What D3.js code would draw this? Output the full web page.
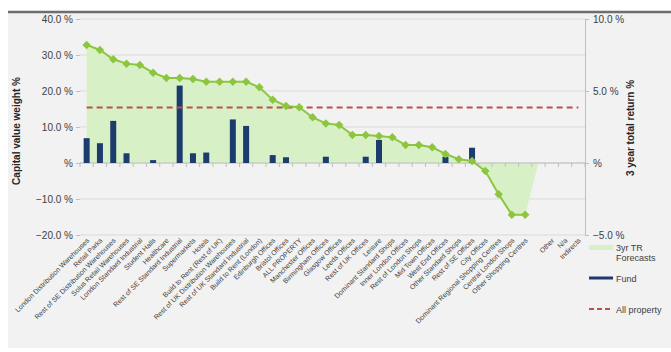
<!DOCTYPE html>
<html>
<head>
<meta charset="utf-8">
<script src="https://cdnjs.cloudflare.com/ajax/libs/d3/7.8.5/d3.min.js"></script>
<style>
  body { margin: 0; background: #fff; }
  svg text { font-family: "Liberation Sans", Arial, sans-serif; }
</style>
</head>
<body>
<div id="chart"></div>
<script>
// categories (one blank slot between the shopping centres and "Other")
const categories = [
  "London Distribution Warehouses", "Retail Parks", "Rest of SE Distribution Warehouses",
  "Solus Retail Warehouses", "London Standard Industrial", "Student Halls", "Healthcare",
  "Rest of SE Standard Industrial", "Supermarkets", "Hotels", "Build to Rent (Rest of UK)",
  "Rest of UK Distribution Warehouses", "Rest of UK Standard Industrial", "Build to Rent (London)",
  "Edinburgh Offices", "Bristol Offices", "ALL PROPERTY", "Manchester Offices",
  "Birmingham Offices", "Glasgow Offices", "Leeds Offices", "Rest of UK Offices", "Leisure",
  "Dominant Standard Shops", "Inner London Offices", "Rest of London Shops", "Mid Town Offices",
  "West End Offices", "Other Standard Shops", "Rest of SE Offices", "City Offices",
  "Dominant Regional Shopping Centres", "Central London Shops", "Other Shopping Centres",
  "", "Other", "N/a", "Indirects"
];

// 3 year total return forecasts (% , right axis)
const forecast = [
  8.2, 7.85, 7.2, 6.9, 6.8, 6.27, 5.9, 5.9, 5.83, 5.65, 5.65, 5.65, 5.65, 5.26,
  4.4, 3.96, 3.87, 3.17, 2.75, 2.64, 1.94, 1.94, 1.88, 1.78, 1.25, 1.25, 1.09,
  0.63, 0.26, 0.14, -0.56, -2.17, -3.6, -3.6, null, null, null, null
];
// area returns to zero at the blank slot
const forecastArea = forecast.map((v, i) => v === null ? (i === 34 ? 0 : null) : v);

// fund capital value weight (% , left axis)
const fund = [
  6.9, 5.5, 11.7, 2.7, 0, 0.8, 0, 21.5, 2.7, 2.9, 0, 12.1, 10.3, 0,
  2.2, 1.6, 0, 0, 1.75, 0, 0, 1.75, 6.4, 0, 0, 0, 0,
  1.75, 0, 4.25, 0, 0, 0, 0, 0, 0, 0, 0
];

// all property return (% , right axis)
const allProperty = 3.85;

const leftTicks = [40, 30, 20, 10, 0, -10, -20];
const rightTicks = [10, 5, 0, -5];

const W = 671, H = 352;
const plot = { left: 80, right: 585, top: 19, bottom: 235 };

const svg = d3.select("#chart").append("svg")
  .attr("width", W)
  .attr("height", H);

// panel background
svg.append("rect")
  .attr("x", 8).attr("y", 12)
  .attr("width", W - 8).attr("height", 336)
  .attr("fill", "#f2f2f2");
svg.append("line")
  .attr("x1", 8).attr("x2", W)
  .attr("y1", 12).attr("y2", 12)
  .attr("stroke", "#6e6e6e")
  .attr("stroke-width", 2.5);

const x = d3.scaleBand()
  .domain(categories.map((c, i) => i))
  .range([plot.left, plot.right])
  .padding(0);
const cx = i => x(i) + x.bandwidth() / 2;

const yL = d3.scaleLinear().domain([-20, 40]).range([plot.bottom, plot.top]);
const yR = d3.scaleLinear().domain([-5, 10]).range([plot.bottom, plot.top]);

// gridlines
svg.append("g")
  .selectAll("line")
  .data(leftTicks)
  .join("line")
  .attr("x1", plot.left).attr("x2", plot.right)
  .attr("y1", d => yL(d)).attr("y2", d => yL(d))
  .attr("stroke", "#d9d9d9")
  .attr("stroke-width", 1);

// forecast area
const areaData = forecastArea.map((v, i) => ({ i, v }));
svg.append("path")
  .datum(areaData)
  .attr("fill", "#d8f0c6")
  .attr("d", d3.area()
    .defined(d => d.v !== null)
    .x(d => cx(d.i))
    .y0(yR(0))
    .y1(d => yR(d.v)));

// zero axis with ticks at band edges
svg.append("line")
  .attr("x1", plot.left).attr("x2", plot.right)
  .attr("y1", yL(0)).attr("y2", yL(0))
  .attr("stroke", "#bfbfbf");
svg.append("g")
  .selectAll("line")
  .data(d3.range(categories.length + 1))
  .join("line")
  .attr("x1", i => plot.left + i * x.step())
  .attr("x2", i => plot.left + i * x.step())
  .attr("y1", yL(0)).attr("y2", yL(0) + 4)
  .attr("stroke", "#bfbfbf");

// fund bars
const barW = 6;
svg.append("g")
  .selectAll("rect")
  .data(fund.map((v, i) => ({ i, v })).filter(d => d.v > 0))
  .join("rect")
  .attr("x", d => cx(d.i) - barW / 2)
  .attr("width", barW)
  .attr("y", d => yL(d.v))
  .attr("height", d => yL(0) - yL(d.v))
  .attr("fill", "#1d3c6e");

// all property dashed line
svg.append("line")
  .attr("x1", cx(0)).attr("x2", cx(categories.length - 1))
  .attr("y1", yR(allProperty)).attr("y2", yR(allProperty))
  .attr("stroke", "#b9514a")
  .attr("stroke-width", 2)
  .attr("stroke-dasharray", "6,4");

// forecast line + diamonds
const lineData = forecast.map((v, i) => ({ i, v })).filter(d => d.v !== null);
svg.append("path")
  .datum(lineData)
  .attr("fill", "none")
  .attr("stroke", "#8cc63e")
  .attr("stroke-width", 2)
  .attr("d", d3.line().x(d => cx(d.i)).y(d => yR(d.v)));

svg.append("g")
  .selectAll("path")
  .data(lineData)
  .join("path")
  .attr("d", d3.symbol(d3.symbolDiamond2, 46))
  .attr("transform", d => `translate(${cx(d.i)},${yR(d.v)})`)
  .attr("fill", "#8cc63e");

// left axis
const leftAxis = svg.append("g")
  .attr("transform", `translate(${plot.left},0)`)
  .call(d3.axisLeft(yL).tickValues(leftTicks).tickSize(4)
    .tickFormat(d => (d === 0 ? "" : d3.format(".1f")(d)) + " %"));
leftAxis.select(".domain").remove();
leftAxis.selectAll("line").attr("stroke", "#bfbfbf");
leftAxis.selectAll("text").attr("fill", "#404040").style("font-size", "10px").attr("x", -7);

// right axis
const rightAxis = svg.append("g")
  .attr("transform", `translate(${plot.right},0)`)
  .call(d3.axisRight(yR).tickValues(rightTicks).tickSize(4)
    .tickFormat(d => (d === 0 ? "" : d3.format(".1f")(d)) + " %"));
rightAxis.select(".domain").attr("stroke", "#bfbfbf");
rightAxis.selectAll("line").attr("stroke", "#bfbfbf");
rightAxis.selectAll("text").attr("fill", "#404040").style("font-size", "10px").attr("x", 8);

// axis titles
svg.append("text")
  .attr("transform", "translate(20,131) rotate(-90)")
  .attr("text-anchor", "middle")
  .style("font-size", "10px")
  .style("font-weight", "bold")
  .attr("fill", "#262626")
  .text("Capital value weight %");

svg.append("text")
  .attr("transform", "translate(634,128) rotate(-90)")
  .attr("text-anchor", "middle")
  .style("font-size", "10px")
  .style("font-weight", "bold")
  .attr("fill", "#262626")
  .text("3 year total return %");

// category labels
svg.append("g")
  .selectAll("text")
  .data(categories.map((c, i) => ({ c, i })))
  .join("text")
  .attr("transform", d => `translate(${cx(d.i) + 3},${plot.bottom + 6}) rotate(-45)`)
  .attr("text-anchor", "end")
  .style("font-size", "7px")
  .attr("fill", "#404040")
  .text(d => d.c);

// legend
const legend = svg.append("g").attr("transform", "translate(589,0)");
legend.append("rect")
  .attr("x", 0).attr("y", 245)
  .attr("width", 24).attr("height", 5)
  .attr("fill", "#d8f0c6");
legend.append("text").attr("x", 27).attr("y", 251).text("3yr TR");
legend.append("text").attr("x", 27).attr("y", 261).text("Forecasts");
legend.append("line")
  .attr("x1", 0).attr("x2", 24)
  .attr("y1", 278).attr("y2", 278)
  .attr("stroke", "#1d3c6e").attr("stroke-width", 3);
legend.append("text").attr("x", 27).attr("y", 282).text("Fund");
legend.append("line")
  .attr("x1", 0).attr("x2", 24)
  .attr("y1", 309).attr("y2", 309)
  .attr("stroke", "#b9514a").attr("stroke-width", 2)
  .attr("stroke-dasharray", "5,3");
legend.append("text").attr("x", 27).attr("y", 313).text("All property");
legend.selectAll("text").style("font-size", "9px").attr("fill", "#404040");
</script>
</body>
</html>
